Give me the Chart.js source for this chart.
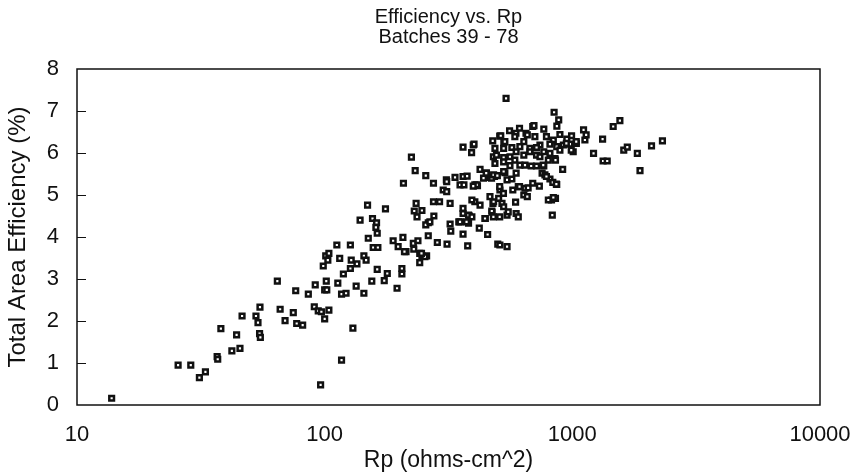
<!DOCTYPE html>
<html>
<head>
<meta charset="utf-8">
<script src="https://cdn.jsdelivr.net/npm/chart.js@4.4.1/dist/chart.umd.min.js"></script>
<style>
  html, body { margin: 0; padding: 0; background: #fff; }
  #wrap { width: 860px; height: 474px; }
</style>
</head>
<body>
<div id="wrap"><canvas id="effChart" width="860" height="474"></canvas></div>
<script>
// Rp (ohms-cm^2) and total area efficiency (%) for each cell
const rpValues = [
    13.8, 25.6, 28.8, 31.2, 33, 36.8, 37, 38.1, 42.2, 44.1, 45.5, 46.4, 52.8, 53.8, 54.8, 54.6, 55,
    64.4, 66.1, 69.2, 74.7, 76.4, 77.1, 81.5, 85.9, 90.8, 91.6, 94.2, 96.3, 97, 98.7, 100, 102, 100,
    101.5, 101, 104, 103, 104, 115, 117, 113, 117, 122, 119, 127, 128, 135, 130, 134, 112, 127,
    144, 147, 144, 139, 149, 156, 162, 161, 163, 150, 157, 164, 155, 163, 174, 179, 176, 189, 198,
    207, 205, 205, 196, 213, 228, 229, 238, 242, 247, 258, 242, 234, 230, 247, 236, 262, 256, 276,
    262, 285, 312, 321, 323, 348, 362, 381, 384, 362, 378, 321, 275, 291, 421, 445, 455, 474, 500,
    404, 478, 266, 254, 210, 246, 352, 381,
    540, 844, 881, 866, 224, 362, 398, 392, 232, 256, 208, 275, 310, 311, 301, 311, 336, 352, 362,
    376, 365, 404, 414, 411, 398, 424, 450, 465, 485, 438, 472, 534,
    477, 509, 529, 558, 592, 612, 650, 692, 700, 767, 786, 658, 706, 514, 586, 534, 637, 838, 891,
    950, 993, 1110, 1137, 1124, 1038, 978, 920, 865, 812, 740, 717, 674, 614, 570, 528, 487, 401,
    480, 1218, 1325, 1331, 1383, 1613, 1667, 1830, 1876, 2088, 2311, 1462, 1556,
    494, 528, 560, 593, 637, 674, 717, 767, 812, 851, 891, 1008, 487, 528, 560, 586, 614, 644, 682,
    717, 767, 755, 775, 812, 865, 834, 914, 449, 481, 498, 528, 545, 570, 593, 605, 644, 663, 637,
    658, 736, 692, 786, 862, 824, 855, 800, 838, 830, 465, 481, 504, 520, 528, 473, 444, 545, 593,
    590, 393, 424, 393, 510, 551, 510, 545, 509, 480, 605, 362, 374, 740, 800, 855, 946, 990, 1037,
    763, 509, 527, 575, 612
];
const efficiencyValues = [
    0.16, 0.95, 0.95, 0.65, 0.79, 1.15, 1.09, 1.82, 1.29, 1.67, 1.35, 2.12, 2.12, 1.96, 2.33, 1.70, 1.61,
    2.95, 2.28, 2.01, 2.20, 2.72, 1.94, 1.90, 2.64, 2.34, 2.86, 2.24, 0.48, 2.22, 3.31, 2.74, 2.74, 2.05,
    2.95, 3.55, 3.61, 3.45, 2.26, 3.49, 1.07, 2.90, 2.64, 2.66, 3.12, 3.25, 3.45, 3.36, 1.83, 2.83, 3.81, 3.81,
    3.55, 3.45, 2.66, 4.40, 4.76, 4.44, 4.34, 4.23, 4.09, 3.97, 3.75, 3.75, 2.95, 3.23, 2.96, 3.13, 4.67, 3.91, 3.77,
    3.99, 3.25, 3.12, 2.78, 3.65, 3.85, 3.71, 3.91, 3.61, 3.55, 3.55, 3.39, 4.80, 4.62, 4.63, 4.48, 4.34, 4.29, 4.50,
    4.03, 3.87, 3.83, 4.31, 4.14, 4.36, 4.68, 4.33, 4.50, 4.07, 3.79, 4.80, 4.84, 4.84, 4.21, 4.44, 4.06, 4.59, 3.83,
    4.84, 4.80, 4.36, 3.53, 3.65, 3.61, 4.36, 4.52,
    7.30, 6.97, 6.79, 6.64, 5.90, 6.14, 6.19, 6.01, 5.58, 5.46, 5.28, 5.28, 5.36, 5.32, 5.12, 5.08, 5.42, 5.24, 5.44,
    5.45, 5.24, 5.24, 5.22, 5.24, 5.21, 5.61, 5.52, 5.42, 5.44, 5.40, 5.40, 5.53,
    6.29, 6.40, 6.25, 6.53, 6.47, 6.59, 6.47, 6.63, 6.65, 6.57, 6.39, 6.43, 6.39, 6.41, 6.39, 6.27, 6.27, 6.31, 6.44,
    6.33, 6.41, 6.55, 6.43, 6.31, 6.23, 6.21, 6.19, 6.15, 6.21, 6.19, 6.13, 6.11, 6.15, 6.13, 6.11, 6.11, 6.21,
    5.91, 5.99, 6.33, 5.81, 5.81, 6.07, 6.14, 5.99, 5.58, 6.17, 6.29, 6.63, 6.77,
    5.95, 5.89, 5.91, 6.03, 5.95, 6.03, 5.95, 6.03, 5.99, 5.87, 6.07, 6.03, 5.75, 5.79, 5.70, 5.83, 5.71, 5.71, 5.69,
    5.69, 5.69, 5.52, 5.48, 5.38, 5.25, 5.30, 5.61, 5.52, 5.48, 5.46, 5.56, 5.36, 5.38, 5.52, 5.20, 5.16, 5.17, 5.00,
    4.96, 5.21, 5.28, 5.44, 5.26, 4.88, 4.92, 4.88, 4.94, 4.52, 4.96, 4.84, 4.92, 4.80, 4.72, 4.62, 4.44, 4.52, 4.56,
    4.83, 4.88, 4.76, 4.48, 5.12, 4.60, 3.81, 3.77, 4.48, 4.48, 4.48, 4.56, 4.36, 5.91, 5.83, 5.83, 6.23, 6.07, 6.27,
    5.71, 5.20, 5.04, 5.12, 5.20
];
const xTickValues = [10, 100, 1000, 10000];
const yMin = 0, yMax = 8;

const ink = '#111';
const fontFamily = "'Liberation Sans', Arial, sans-serif";

// box around the plot plus short inward ticks on the left axis
const frame = {
    id: 'frame',
    afterDraw(chart) {
        const { ctx, chartArea: a, scales } = chart;
        ctx.save();
        ctx.strokeStyle = ink;
        ctx.lineWidth = 1.5;
        ctx.strokeRect(a.left, a.top, a.right - a.left, a.bottom - a.top);
        ctx.lineWidth = 1;
        scales.y.ticks.forEach(t => {
            if (t.value <= yMin || t.value >= yMax) return;
            const y = Math.round(scales.y.getPixelForValue(t.value)) + 0.5;
            ctx.beginPath();
            ctx.moveTo(a.left, y);
            ctx.lineTo(a.left + 9, y);
            ctx.stroke();
        });
        ctx.restore();
    }
};

const points = rpValues.map((rp, i) => ({ x: rp, y: efficiencyValues[i] }));

new Chart(document.getElementById('effChart'), {
    type: 'scatter',
    data: {
        datasets: [{
            data: points,
            pointStyle: 'rect',
            pointRadius: 3.3,
            pointBorderWidth: 2.5,
            pointBorderColor: ink,
            pointBackgroundColor: '#fff'
        }]
    },
    options: {
        responsive: false,
        animation: false,
        events: [],
        layout: { padding: { left: 0, right: 40, top: 0, bottom: 0 } },
        plugins: {
            legend: { display: false },
            tooltip: { enabled: false },
            title: {
                display: true,
                fullSize: false,
                text: ['Efficiency vs. Rp', 'Batches 39 - 78'],
                color: ink,
                font: { family: fontFamily, size: 20, weight: 'normal', lineHeight: 1.0 },
                padding: { top: 7, bottom: 22 }
            }
        },
        scales: {
            x: {
                type: 'logarithmic',
                min: 10,
                max: 10000,
                grid: { display: false, drawTicks: false },
                border: { display: false },
                afterBuildTicks: s => { s.ticks = xTickValues.map(v => ({ value: v })); },
                afterFit: s => {
                    s.height = 69;
                    s.paddingLeft = 0;
                    s.paddingRight = 0;
                },
                ticks: {
                    color: ink,
                    padding: 17,
                    autoSkip: false,
                    maxRotation: 0,
                    font: { family: fontFamily, size: 22 },
                    callback: v => String(v)
                },
                title: {
                    display: true,
                    text: 'Rp (ohms-cm^2)',
                    color: ink,
                    font: { family: fontFamily, size: 23 },
                    padding: { top: 0, bottom: 0 }
                }
            },
            y: {
                min: yMin,
                max: yMax,
                grid: { display: false, drawTicks: false },
                border: { display: false },
                afterFit: s => { s.width = 77; },
                ticks: {
                    stepSize: 1,
                    color: ink,
                    padding: 18,
                    font: { family: fontFamily, size: 22 }
                },
                title: {
                    display: true,
                    text: 'Total Area Efficiency (%)',
                    color: ink,
                    font: { family: fontFamily, size: 24 },
                    padding: { top: 4, bottom: 0 }
                }
            }
        }
    },
    plugins: [frame]
});
</script>
</body>
</html>
